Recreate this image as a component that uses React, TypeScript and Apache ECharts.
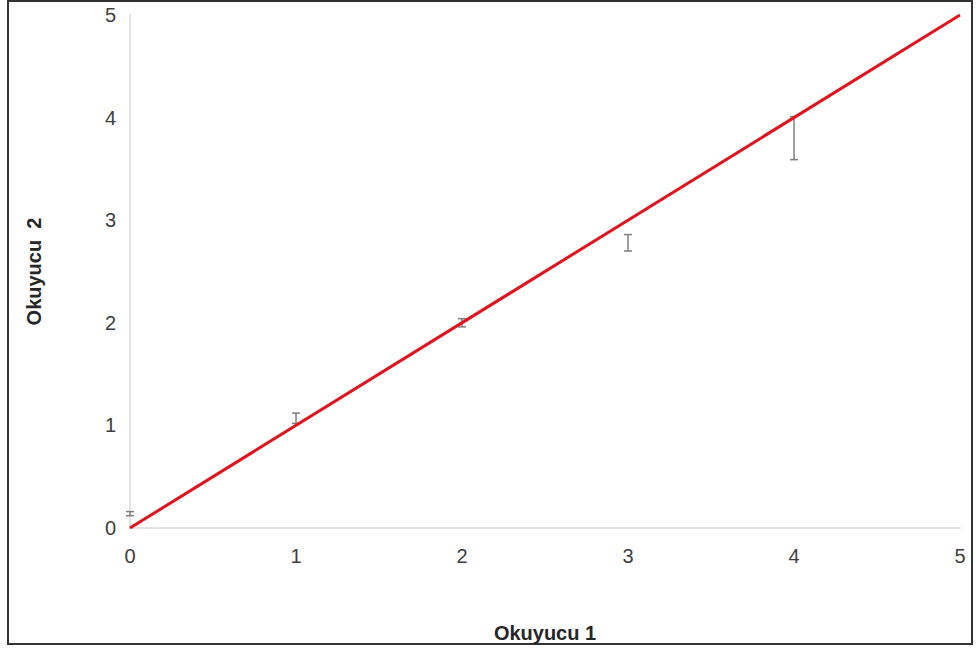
import React, { useEffect, useRef } from "react";
import * as echarts from "echarts";

const xTicks = [0, 1, 2, 3, 4, 5];
const pointX = [0, 1, 2, 3, 4];
const errLow = [0.12, 1.02, 1.96, 2.7, 3.59];
const errHigh = [0.16, 1.12, 2.04, 2.86, 4.01];
const identityLine = [
  [0, 0],
  [5, 5],
];

export default function App() {
  const ref = useRef<HTMLDivElement>(null);
  useEffect(() => {
    if (!ref.current) return;
    const chart = echarts.init(ref.current, null, { renderer: "svg" });
    const errData = pointX.map((x, i) => [x, errLow[i], errHigh[i]]);
    chart.setOption({
      animation: false,
      backgroundColor: "#ffffff",
      grid: { left: 130, right: 16, top: 15, bottom: 117 },
      xAxis: {
        type: "value",
        min: 0,
        max: 5,
        interval: 1,
        name: "Okuyucu 1",
        nameLocation: "middle",
        nameGap: 95,
        nameTextStyle: { fontFamily: "Liberation Sans, Arial", fontWeight: "bold", fontSize: 20, color: "#262626" },
        axisLine: { show: true, lineStyle: { color: "#d9d9d9", width: 1.5 } },
        axisTick: { show: false },
        splitLine: { show: false },
        axisLabel: { margin: 18, fontFamily: "Liberation Sans, Arial", fontSize: 20, color: "#404040",
          formatter: (v: number) => (xTicks.includes(v) ? String(v) : "") },
      },
      yAxis: {
        type: "value",
        min: 0,
        max: 5,
        interval: 1,
        name: "Okuyucu  2",
        nameLocation: "middle",
        nameGap: 86,
        nameRotate: 90,
        nameTextStyle: { fontFamily: "Liberation Sans, Arial", fontWeight: "bold", fontSize: 20, color: "#262626" },
        axisLine: { show: true, lineStyle: { color: "#d9d9d9", width: 1.5 } },
        axisTick: { show: false },
        splitLine: { show: false },
        axisLabel: { margin: 14, fontFamily: "Liberation Sans, Arial", fontSize: 20, color: "#404040" },
      },
      graphic: [
        {
          type: "rect",
          shape: { x: 8, y: 1, width: 964, height: 643 },
          style: { fill: "none", stroke: "#333333", lineWidth: 2 },
          silent: true,
        },
      ],
      series: [
        {
          type: "line",
          data: identityLine,
          symbol: "none",
          lineStyle: { color: "#e0141e", width: 3 },
          z: 3,
        },
        {
          type: "custom",
          data: errData,
          z: 2,
          renderItem: (params: any, api: any) => {
            const x = api.value(0);
            const lo = api.coord([x, api.value(1)]);
            const hi = api.coord([x, api.value(2)]);
            const hw = 4;
            const style = { stroke: "#7f7f7f", lineWidth: 1.5 };
            return {
              type: "group",
              children: [
                { type: "line", shape: { x1: lo[0], y1: lo[1], x2: hi[0], y2: hi[1] }, style },
                { type: "line", shape: { x1: lo[0] - hw, y1: lo[1], x2: lo[0] + hw, y2: lo[1] }, style },
                { type: "line", shape: { x1: hi[0] - hw, y1: hi[1], x2: hi[0] + hw, y2: hi[1] }, style },
              ],
            };
          },
        },
      ],
    });
    return () => chart.dispose();
  }, []);
  return (
    <div style={{ position: "fixed", left: 0, top: 0, width: 976, height: 648 }}>
      <div ref={ref} style={{ width: 976, height: 648 }} />
    </div>
  );
}
